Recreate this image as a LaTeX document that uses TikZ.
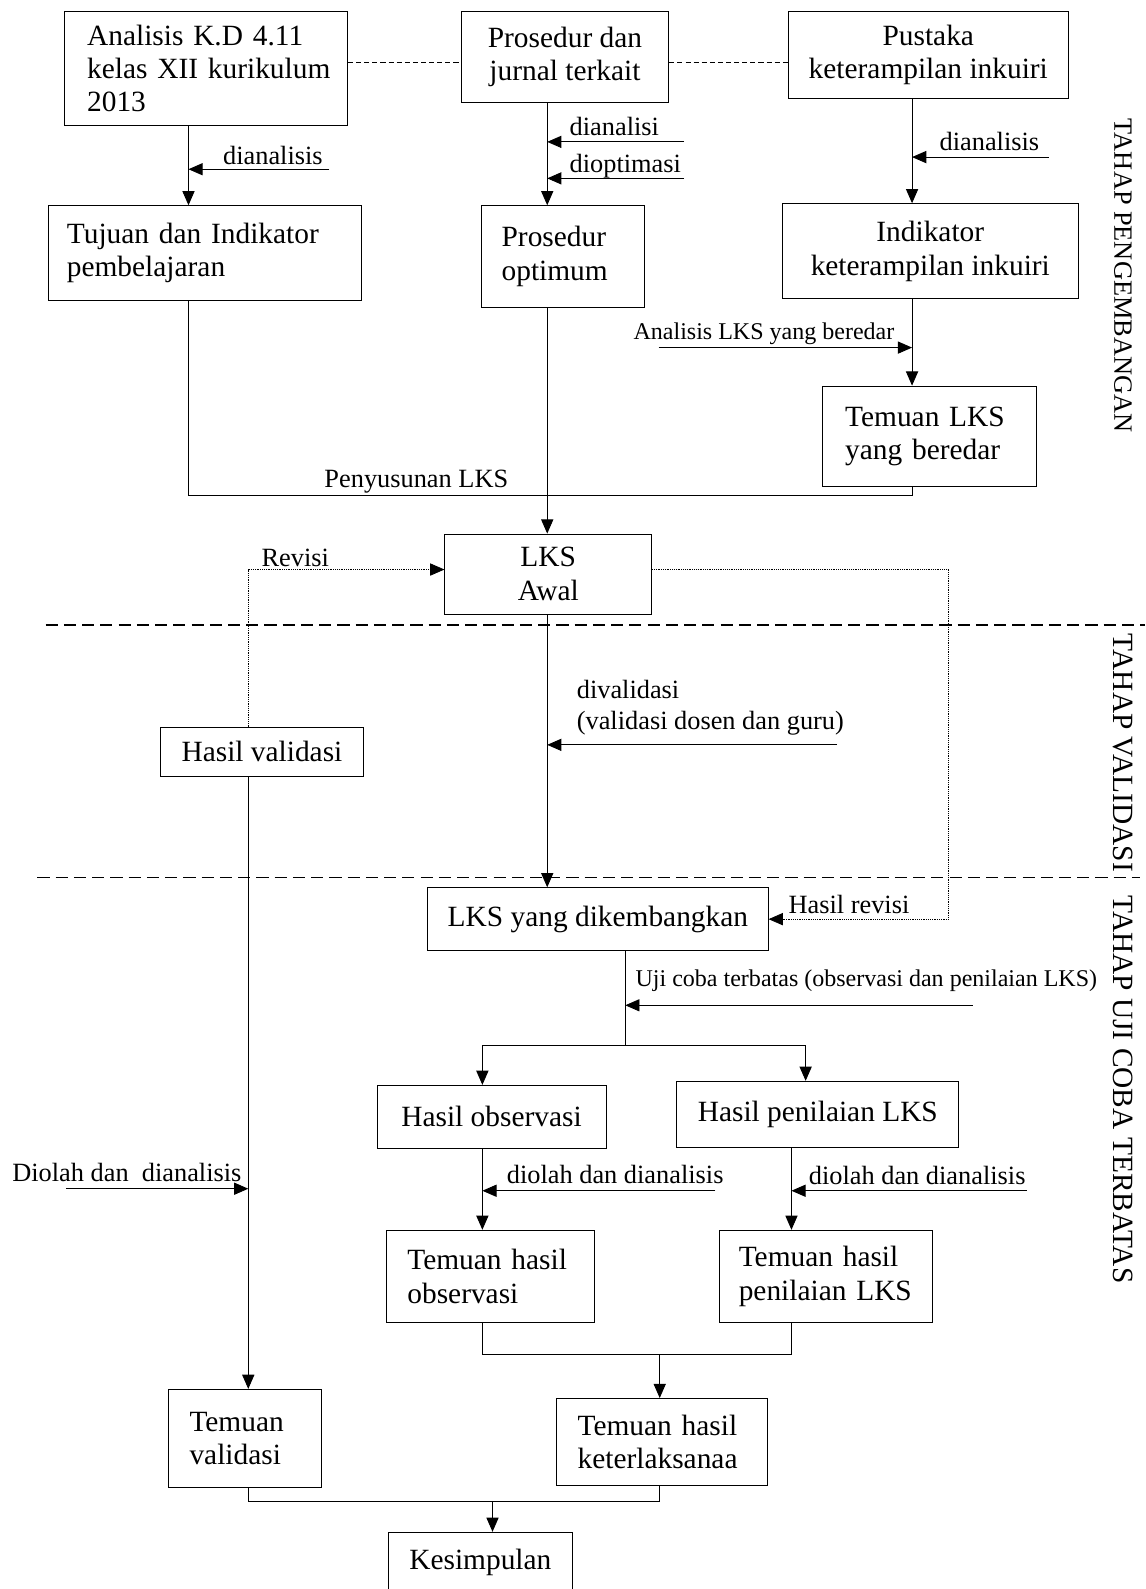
\documentclass[tikz,border=0pt]{standalone}
\usepackage{fontspec}
\setmainfont{Liberation Serif}
\usetikzlibrary{arrows.meta}

\tikzset{
  kotak/.style={draw, line width=0.9pt, font=\fontsize{29}{33}\selectfont, inner sep=0pt},
  ket/.style={font=\fontsize{26}{31}\selectfont, inner sep=0pt, anchor=base west},
  ketkecil/.style={font=\fontsize{23.7}{28}\selectfont, inner sep=0pt, anchor=base west},
  tahap/.style={rotate=-90, font=\fontsize{29}{33}\selectfont, inner sep=0pt},
  garis/.style={line width=0.9pt},
  panah/.style={line width=0.9pt, -{Triangle[length=14pt,width=12pt]}},
  titik/.style={line width=0.8pt, densely dotted, -{Triangle[length=14pt,width=12pt]}},
  pemisah/.style={line width=1.6pt, dash pattern=on 12pt off 6pt},
}

\begin{document}
\hyphenpenalty=10000
\begin{tikzpicture}[x=1pt, y=-1pt]
\useasboundingbox (0,0) rectangle (1130,1568);

% tahap pengembangan
\node[kotak, text width=249pt, inner xsep=15pt, minimum height=113pt, align=left] (kd) at (203.5,67.5) {\hspace*{7pt}Analisis K.D 4.11\\\hspace*{7pt}kelas XII kurikulum\\\hspace*{7pt}2013};
\node[kotak, minimum width=205pt, minimum height=90pt, align=center] (jurnal) at (557.5,56) {Prosedur dan\\jurnal terkait};
\node[kotak, minimum width=276pt, minimum height=86pt, align=center] (pustaka) at (916,54) {Pustaka\\keterampilan inkuiri};
\node[kotak, text width=273pt, inner xsep=18pt, minimum height=93pt, align=left] (tujuan) at (202.5,249.5) {Tujuan dan Indikator\\pembelajaran};
\node[kotak, text width=121pt, inner xsep=20pt, minimum height=100pt, align=left] (optimum) at (555.5,253) {Prosedur\\optimum};
\node[kotak, minimum width=292pt, minimum height=94pt, align=center] (indikator) at (918,248) {Indikator\\keterampilan inkuiri};
\node[kotak, text width=167pt, inner xsep=22pt, minimum height=99pt, align=left] (temuanlks) at (917.5,430.5) {Temuan LKS\\yang beredar};
\node[kotak, minimum width=204pt, minimum height=79pt, align=center] (awal) at (541,566.5) {LKS\\Awal};

% tahap validasi
\node[kotak, minimum width=201pt, minimum height=48pt] (hasilval) at (258.5,742) {Hasil validasi};
\node[kotak, minimum width=336pt, minimum height=62pt] (dikembangkan) at (590,907) {LKS yang dikembangkan};

% tahap uji coba terbatas
\node[kotak, minimum width=226pt, minimum height=62pt] (observasi) at (485,1102) {Hasil observasi};
\node[kotak, minimum width=278pt, minimum height=65pt] (penilaian) at (807,1099.5) {Hasil penilaian LKS};
\node[kotak, text width=164pt, inner xsep=21pt, minimum height=91pt, align=left] (tobs) at (484,1259.5) {Temuan hasil\\observasi};
\node[kotak, text width=172pt, inner xsep=19pt, minimum height=91pt, align=left] (tpen) at (815,1259.5) {Temuan hasil\\penilaian LKS};
\node[kotak, text width=109pt, inner xsep=21pt, minimum height=97pt, align=left] (tval) at (241.5,1419.5) {Temuan\\validasi};
\node[kotak, text width=166pt, inner xsep=21pt, minimum height=86pt, align=left] (tket) at (653,1423) {Temuan hasil\\keterlaksanaa};
\node[kotak, minimum width=182pt, minimum height=60pt] (kesimpulan) at (474,1542) {Kesimpulan};

% label di samping panah
\node[ket] (l1) at (220,162) {dianalisis};
\node[ket] (l2) at (562,134) {dianalisi};
\node[ket] (l3) at (562,170) {dioptimasi};
\node[ket] (l4) at (927,149) {dianalisis};
\node[ketkecil] (l5) at (625,335) {Analisis LKS yang beredar};
\node[ket] (l6) at (320,481) {Penyusunan LKS};
\node[ket] (l7) at (258,559) {Revisi};
\node[ket, anchor=north west, align=left] (l8) at (569,671) {divalidasi\\(validasi dosen dan guru)};
\node[ket] (l9) at (778,901) {Hasil revisi};
\node[ketkecil] (l10) at (627,973) {Uji coba terbatas (observasi dan penilaian LKS)};
\node[ket] (l11) at (500,1168) {diolah dan dianalisis};
\node[ket] (l12) at (798,1169) {diolah dan dianalisis};
\node[ket] (l13) at (12,1166) {Diolah dan\ \ dianalisis};

\node[tahap, font=\fontsize{26}{30}\selectfont] (tp1) at (1108,272) {TAHAP PENGEMBANGAN};
\node[tahap] (tp2) at (1108,743) {TAHAP VALIDASI};
\node[tahap] (tp3) at (1108,1075) {TAHAP UJI COBA TERBATAS};

% kolom dan baris
\coordinate (xa) at (186,0);
\coordinate (xb) at (540,0);
\coordinate (xc) at (900,0);
\coordinate (xd) at (245,0);
\coordinate (xe) at (617,0);
\coordinate (xf) at (476,0);
\coordinate (xg) at (795,0);
\coordinate (xh) at (781,0);
\coordinate (xi) at (651,0);
\coordinate (xj) at (486,0);
\coordinate (xk) at (936,0);
\coordinate (ya) at (0,62);
\coordinate (yb) at (0,489);
\coordinate (yc) at (0,562);
\coordinate (yd) at (0,1032);
\coordinate (ye) at (0,1337);
\coordinate (yf) at (0,1482);

% ujung bebas panah samping
\coordinate (p1) at (325,167);
\coordinate (p2) at (675,140);
\coordinate (p3) at (675,176);
\coordinate (p4) at (1035,155);
\coordinate (p5) at (650,343);
\coordinate (p6) at (826,735);
\coordinate (p7) at (960,992);
\coordinate (p8) at (706,1175);
\coordinate (p9) at (1013,1175);
\coordinate (p10) at (65,1173);

\draw[garis, line width=0.7pt, dash pattern=on 5pt off 3pt] (kd.east |- ya) -- (jurnal.west |- ya);
\draw[garis, line width=0.7pt, dash pattern=on 5pt off 3pt] (jurnal.east |- ya) -- (pustaka.west |- ya);

\draw[panah] (kd.south -| xa) -- (tujuan.north -| xa);
\draw[panah] (p1) -- (p1 -| xa);
\draw[panah] (jurnal.south -| xb) -- (optimum.north -| xb);
\draw[panah] (p2) -- (p2 -| xb);
\draw[panah] (p3) -- (p3 -| xb);
\draw[panah] (pustaka.south -| xc) -- (indikator.north -| xc);
\draw[panah] (p4) -- (p4 -| xc);
\draw[panah] (indikator.south -| xc) -- (temuanlks.north -| xc);
\draw[panah] (p5) -- (p5 -| xc);
\draw[garis] (tujuan.south -| xa) -- (xa |- yb) -- (xc |- yb) -- (temuanlks.south -| xc);
\draw[panah] (optimum.south -| xb) -- (awal.north -| xb);

\draw[titik] (hasilval.north -| xd) -- (xd |- yc) -- (awal.west |- yc);
\draw[titik] (awal.east |- yc) -- (xk |- yc) -- (xk |- dikembangkan.east) -- (dikembangkan.east);
\draw[panah] (awal.south -| xb) -- (dikembangkan.north -| xb);
\draw[panah] (p6) -- (p6 -| xb);

\draw[garis] (dikembangkan.south -| xe) -- (xe |- yd);
\draw[panah] (p7) -- (p7 -| xe);
\draw[garis] (xf |- yd) -- (xg |- yd);
\draw[panah] (xf |- yd) -- (observasi.north -| xf);
\draw[panah] (xg |- yd) -- (penilaian.north -| xg);
\draw[panah] (observasi.south -| xf) -- (tobs.north -| xf);
\draw[panah] (p8) -- (p8 -| xf);
\draw[panah] (penilaian.south -| xh) -- (tpen.north -| xh);
\draw[panah] (p9) -- (p9 -| xh);
\draw[garis] (tobs.south -| xf) -- (xf |- ye) -- (xh |- ye) -- (tpen.south -| xh);
\draw[panah] (xi |- ye) -- (tket.north -| xi);

\draw[panah] (hasilval.south -| xd) -- (tval.north -| xd);
\draw[panah] (p10) -- (p10 -| xd);
\draw[garis] (tval.south -| xd) -- (xd |- yf) -- (xi |- yf) -- (tket.south -| xi);
\draw[panah] (xj |- yf) -- (kesimpulan.north -| xj);

% garis batas tahap
\draw[pemisah] (45,617) -- (1130,617);
\draw[pemisah] (37,866) -- (1125,866);

\end{tikzpicture}
\end{document}
